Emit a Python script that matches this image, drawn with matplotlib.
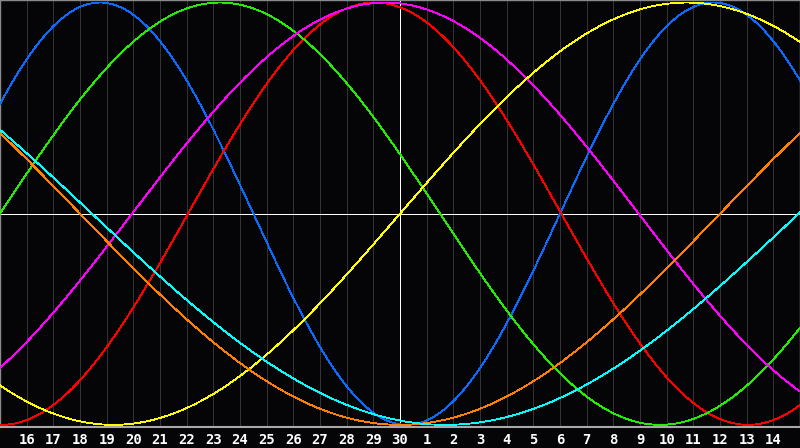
import numpy as np
import matplotlib
matplotlib.use('Agg')
import matplotlib.pyplot as plt

# biorhythm cycles: period in days, phase offset (days)
periods = [23, 28, 33, 38, 43, 48, 53]
phases = [2.0, 20.95, 0.0, 33.05, 28.0, 21.0, 23.05]
colors = ['#0a6cff', '#ff0000', '#22ee00', '#ff00ff', '#ffff00', '#ff8000', '#00ffff']

# day labels under each grid line (left edge is the 15th)
day_labels = [str(d) for d in range(16, 31)] + [str(d) for d in range(1, 15)]
n_days = 30
today = 15

bg = '#050508'

fig = plt.figure(figsize=(8, 4.48), dpi=100, facecolor=bg)
ax = fig.add_axes([0, 0.046, 1, 0.954])
ax.set_facecolor(bg)

t = np.linspace(0, n_days, 1601)
for period, phase, col in zip(periods, phases, colors):
    y = np.sin(2 * np.pi * (t + phase) / period)
    ax.plot(t, y, color=col, lw=0.6, antialiased=False, zorder=3)

# day grid
for i in range(1, n_days):
    ax.axvline(i, color='#333335', lw=0.7, antialiased=False, zorder=1)

ax.axhline(0, color='white', lw=0.7, antialiased=False, zorder=2)
ax.axvline(today, color='white', lw=0.7, antialiased=False, zorder=2)

ax.set_xlim(0, n_days)
ax.set_ylim(-1.012, 1.012)
ax.set_xticks(range(1, n_days))
ax.set_xticklabels(day_labels, fontfamily='DejaVu Sans Mono', fontweight='bold', fontsize=10)
ax.tick_params(axis='x', length=0, pad=4, colors='white')
ax.set_yticks([])

for side in ['top', 'left', 'right', 'bottom']:
    ax.spines[side].set_color('#8a8a8a')
    ax.spines[side].set_linewidth(1.0)
ax.spines['bottom'].set_color('#a8a8a8')
ax.spines['bottom'].set_linewidth(1.5)

fig.savefig('out.png', dpi=100, facecolor=bg)
